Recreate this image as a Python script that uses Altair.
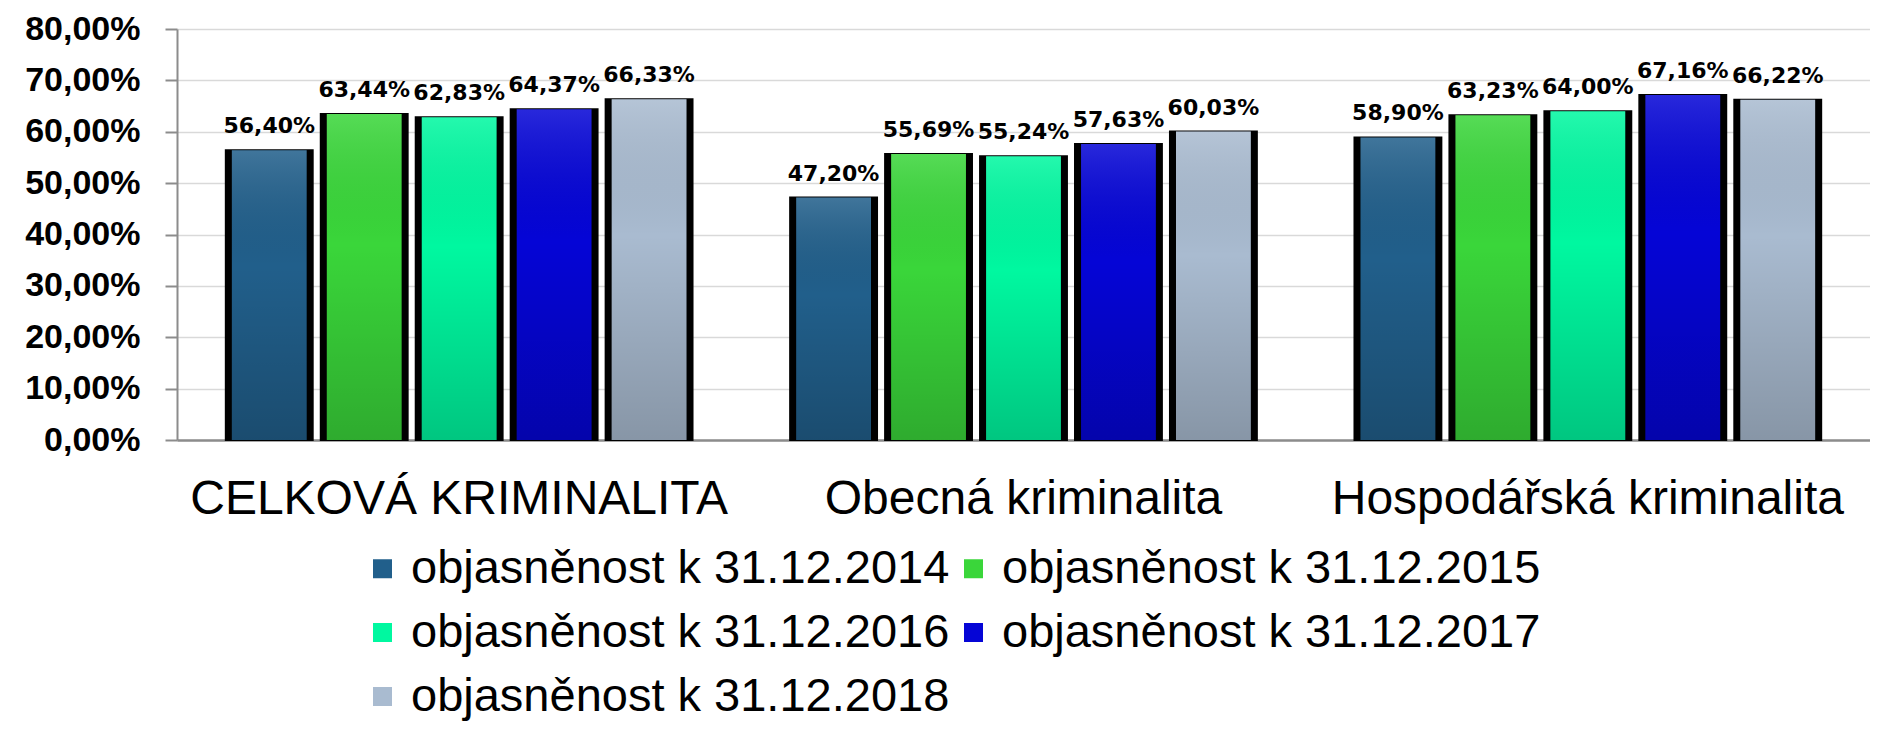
import altair as alt
import pandas as pd

categories = ["CELKOVÁ KRIMINALITA", "Obecná kriminalita", "Hospodářská kriminalita"]
series = [
    "objasněnost k 31.12.2014",
    "objasněnost k 31.12.2015",
    "objasněnost k 31.12.2016",
    "objasněnost k 31.12.2017",
    "objasněnost k 31.12.2018",
]
values_2014 = [0.5640, 0.4720, 0.5890]
values_2015 = [0.6344, 0.5569, 0.6323]
values_2016 = [0.6283, 0.5524, 0.6400]
values_2017 = [0.6437, 0.5763, 0.6716]
values_2018 = [0.6633, 0.6003, 0.6622]
colors = ["#215F8B", "#3AD63A", "#00F8A0", "#0505D6", "#A9BBD0"]
y_ticks = [0.0, 0.1, 0.2, 0.3, 0.4, 0.5, 0.6, 0.7, 0.8]

all_values = [values_2014, values_2015, values_2016, values_2017, values_2018]
rows = []
for s, vals in zip(series, all_values):
    for c, v in zip(categories, vals):
        rows.append({
            "category": c,
            "series": s,
            "value": v,
            "label": f"{v * 100:.2f}".replace(".", ",") + "%",
        })
df = pd.DataFrame(rows)

x_enc = alt.X(
    "category:N",
    sort=categories,
    scale=alt.Scale(paddingInner=0.173, paddingOuter=0.0865),
    axis=alt.Axis(
        title=None, labelAngle=0, labelFontSize=48, labelFont="Liberation Sans",
        labelColor="black", labelPadding=35, ticks=False, tickSize=0,
        domainColor="#8C8C8C", domainWidth=2.5, labelLimit=900,
        labelBaseline="top",
    ),
)
# outer (black) bars and inner (coloured) faces share the same step
xoff_outer = alt.XOffset(
    "series:N", sort=series, scale=alt.Scale(paddingInner=0.085, paddingOuter=0)
)
xoff_inner = alt.XOffset(
    "series:N", sort=series, scale=alt.Scale(paddingInner=0.212, paddingOuter=0.0635)
)
y_enc = alt.Y(
    "value:Q",
    scale=alt.Scale(domain=[0, 0.8], nice=False),
    axis=alt.Axis(
        title=None, values=y_ticks,
        labelExpr="replace(format(datum.value, '.2%'), '.', ',')",
        labelFontSize=34, labelFontWeight="bold", labelFont="Liberation Sans",
        labelColor="black", tickSize=12, tickColor="#8C8C8C", tickWidth=2,
        labelPadding=25, domainColor="#8C8C8C", domainWidth=2,
        gridColor="#D9D9D9", gridWidth=1.5,
    ),
)

base = alt.Chart(df)

shadow = base.mark_bar(color="black", stroke="black", strokeWidth=2).encode(
    x=x_enc, xOffset=xoff_outer, y=y_enc
)

labels = base.mark_text(
    font="DejaVu Sans", fontWeight="bold", fontSize=22,
    baseline="alphabetic", dy=-17, color="black",
).encode(x=x_enc, xOffset=xoff_outer, y=y_enc, text="label:N")

face = base.mark_bar().encode(
    x=x_enc,
    xOffset=xoff_inner,
    y=y_enc,
    color=alt.Color(
        "series:N",
        sort=series,
        scale=alt.Scale(domain=series, range=colors),
        legend=alt.Legend(
            orient="none", legendX=182, legendY=516, columns=2,
            direction="horizontal", title=None,
            symbolType="square", symbolSize=361, symbolStrokeWidth=0,
            symbolOpacity=1, labelFontSize=47, labelFont="Liberation Sans",
            labelColor="black", labelLimit=1000, labelOffset=5,
            columnPadding=0, rowPadding=16, padding=0,
        ),
    ),
)

shade = base.mark_bar(
    color=alt.Gradient(
        gradient="linear",
        stops=[
            alt.GradientStop(color="rgba(255,255,255,0.14)", offset=0),
            alt.GradientStop(color="rgba(0,0,0,0.0)", offset=0.4),
            alt.GradientStop(color="rgba(0,0,0,0.2)", offset=1),
        ],
        x1=0, x2=0, y1=0, y2=1,
    ),
).encode(x=x_enc, xOffset=xoff_inner, y=y_enc)

outer = alt.layer(shadow, labels)
inner = alt.layer(face, shade)

chart = (
    alt.layer(outer, inner)
    .resolve_scale(xOffset="independent")
    .properties(
        width=1693,
        height=411,
        padding={"left": 169, "top": 21, "right": 0, "bottom": 284},
        autosize=alt.AutoSizeParams(type="none"),
        background="white",
    )
    .configure_view(stroke=None)
)

chart.save("out.html", embed_options={"renderer": "svg", "actions": False})
